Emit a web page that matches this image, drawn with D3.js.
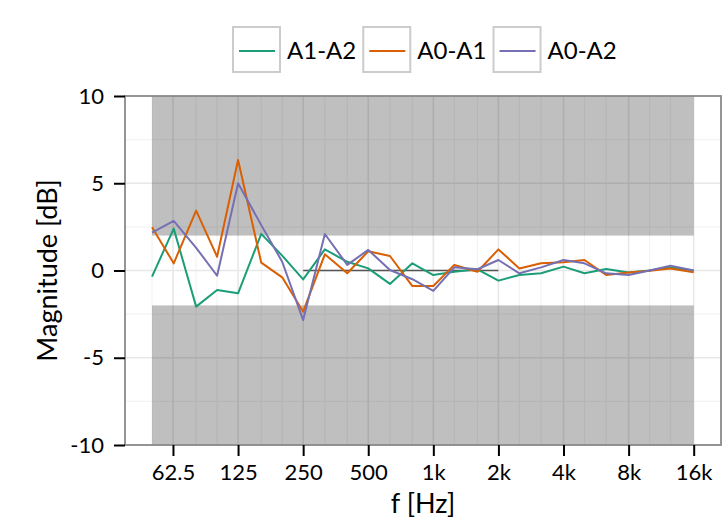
<!DOCTYPE html>
<html>
<head>
<meta charset="utf-8">
<script src="https://cdn.jsdelivr.net/npm/d3@7"></script>
<style>
  body { margin: 0; background: #fff; }
  text { font-family: Lato, "Open Sans", sans-serif; fill: #000; }
</style>
</head>
<body>
<div id="vis"></div>
<script>

// third octave band centres [Hz]
var freqs = [50, 63, 80, 100, 125, 160, 200, 250, 315, 400, 500, 630, 800,
  1000, 1250, 1600, 2000, 2500, 3150, 4000, 5000, 6300, 8000, 10000, 12500, 16000];

// magnitude differences [dB]
var a1a2 = [-0.35, 2.4, -2.07, -1.12, -1.31, 2.1, 0.85, -0.51, 1.21, 0.5, 0.12, -0.77, 0.41,
  -0.26, -0.07, 0.07, -0.58, -0.26, -0.16, 0.22, -0.16, 0.09, -0.12, 0.0, 0.18, 0.0];
var a0a1 = [2.48, 0.41, 3.43, 0.79, 6.33, 0.45, -0.39, -2.36, 0.93, -0.16, 1.1, 0.83, -0.89,
  -0.89, 0.32, -0.07, 1.21, 0.12, 0.41, 0.47, 0.6, -0.26, -0.12, -0.01, 0.12, -0.1];
var a0a2 = [2.17, 2.84, 1.3, -0.3, 5.0, 2.6, 0.5, -2.84, 2.09, 0.32, 1.18, 0.03, -0.5,
  -1.17, 0.18, 0.07, 0.6, -0.16, 0.18, 0.6, 0.41, -0.16, -0.26, 0.0, 0.28, 0.0];

var seriesNames = ['A1-A2', 'A0-A1', 'A0-A2'];
var seriesValues = [a1a2, a0a1, a0a2];
var seriesColors = ['#1b9e77', '#d95f02', '#7570b3'];

var xTicks = [62.5, 125, 250, 500, 1000, 2000, 4000, 8000, 16000];
var xTickLabels = ['62.5', '125', '250', '500', '1k', '2k', '4k', '8k', '16k'];
var yTicks = [-10, -5, 0, 5, 10];
var yMinor = [-7.5, -2.5, 2.5, 7.5];

// tolerance band and reference line
var bandLimit = 2;
var refFrom = 250, refTo = 2000;

var width = 724;
var height = 518;
var margin = {top: 96, right: 3, bottom: 73, left: 125};
var pw = width - margin.left - margin.right;
var ph = height - margin.top - margin.bottom;

var svg = d3.select('#vis').append('svg')
  .attr('width', width)
  .attr('height', height);

var x = d3.scaleLog().base(2).domain([37.5, 21400]).range([0, pw]);
var y = d3.scaleLinear().domain([-10, 10]).range([ph, 0]);

var g = svg.append('g').attr('transform', 'translate(' + margin.left + ',' + margin.top + ')');

// panel background
g.append('rect').attr('width', pw).attr('height', ph).attr('fill', '#fff');

// grid lines (minor first)
var minorX = freqs.filter(function(f) {
  return xTicks.indexOf(f) < 0 && [63].indexOf(f) < 0;
});
g.selectAll('.xminor').data(minorX).enter().append('line')
  .attr('x1', function(d) { return x(d); }).attr('x2', function(d) { return x(d); })
  .attr('y1', 0).attr('y2', ph)
  .attr('stroke', '#f3f3f3').attr('stroke-width', 1.2);
g.selectAll('.yminor').data(yMinor).enter().append('line')
  .attr('x1', 0).attr('x2', pw)
  .attr('y1', function(d) { return y(d); }).attr('y2', function(d) { return y(d); })
  .attr('stroke', '#f3f3f3').attr('stroke-width', 1.2);
g.selectAll('.xmajor').data(xTicks).enter().append('line')
  .attr('x1', function(d) { return x(d); }).attr('x2', function(d) { return x(d); })
  .attr('y1', 0).attr('y2', ph)
  .attr('stroke', '#e8e8e8').attr('stroke-width', 1.6);
g.selectAll('.ymajor').data(yTicks).enter().append('line')
  .attr('x1', 0).attr('x2', pw)
  .attr('y1', function(d) { return y(d); }).attr('y2', function(d) { return y(d); })
  .attr('stroke', '#e8e8e8').attr('stroke-width', 1.6);

// shaded regions outside the +-2 dB band
var f0 = freqs[0], f1 = freqs[freqs.length - 1];
g.append('rect')
  .attr('x', x(f0)).attr('width', x(f1) - x(f0))
  .attr('y', y(10)).attr('height', y(bandLimit) - y(10))
  .attr('fill', '#000').attr('fill-opacity', 0.25);
g.append('rect')
  .attr('x', x(f0)).attr('width', x(f1) - x(f0))
  .attr('y', y(-bandLimit)).attr('height', y(-10) - y(-bandLimit))
  .attr('fill', '#000').attr('fill-opacity', 0.25);

// zero reference line
g.append('line')
  .attr('x1', x(refFrom)).attr('x2', x(refTo))
  .attr('y1', y(0)).attr('y2', y(0))
  .attr('stroke', '#555').attr('stroke-width', 1.3);

// data lines
var line = d3.line()
  .x(function(d) { return x(d[0]); })
  .y(function(d) { return y(d[1]); });

seriesValues.forEach(function(vals, i) {
  var pts = freqs.map(function(f, j) { return [f, vals[j]]; });
  g.append('path')
    .datum(pts)
    .attr('d', line)
    .attr('fill', 'none')
    .attr('stroke', seriesColors[i])
    .attr('stroke-width', 2)
    .attr('stroke-linejoin', 'round');
});

// panel border
g.append('rect').attr('width', pw).attr('height', ph)
  .attr('fill', 'none').attr('stroke', '#8a8a8a').attr('stroke-width', 1.8);

// axes
var yAxis = d3.axisLeft(y).tickValues(yTicks).tickSize(11).tickPadding(10)
  .tickFormat(function(d) { return d; });
var yg = g.append('g').call(yAxis);
yg.select('.domain').remove();
yg.selectAll('line').attr('stroke', '#000').attr('stroke-width', 2);
yg.selectAll('text').attr('font-size', 22).attr('font-family', 'Lato');

var xAxis = d3.axisBottom(x).tickValues(xTicks).tickSize(11).tickPadding(8)
  .tickFormat(function(d, i) { return xTickLabels[i]; });
var xg = g.append('g').attr('transform', 'translate(0,' + ph + ')').call(xAxis);
xg.select('.domain').remove();
xg.selectAll('line').attr('stroke', '#000').attr('stroke-width', 2);
xg.selectAll('text').attr('font-size', 22).attr('font-family', 'Lato');

// axis titles
svg.append('text')
  .attr('x', margin.left + pw / 2).attr('y', 513)
  .attr('text-anchor', 'middle').attr('font-size', 27)
  .text('f [Hz]');
svg.append('text')
  .attr('transform', 'translate(57,' + (margin.top + ph / 2) + ') rotate(-90)')
  .attr('text-anchor', 'middle').attr('font-size', 27)
  .text('Magnitude [dB]');

// legend
var lx = 233;
seriesNames.forEach(function(name, i) {
  var item = svg.append('g').attr('transform', 'translate(' + lx + ',27)');
  item.append('rect').attr('width', 47).attr('height', 45)
    .attr('fill', '#fff').attr('stroke', '#cccccc').attr('stroke-width', 2);
  item.append('line').attr('x1', 6).attr('x2', 42).attr('y1', 24).attr('y2', 24)
    .attr('stroke', seriesColors[i]).attr('stroke-width', 2);
  var t = item.append('text').attr('x', 54).attr('y', 32)
    .attr('font-size', 24).text(name);
  lx += 54 + t.node().getComputedTextLength() + 7;
});

</script>
</body>
</html>
